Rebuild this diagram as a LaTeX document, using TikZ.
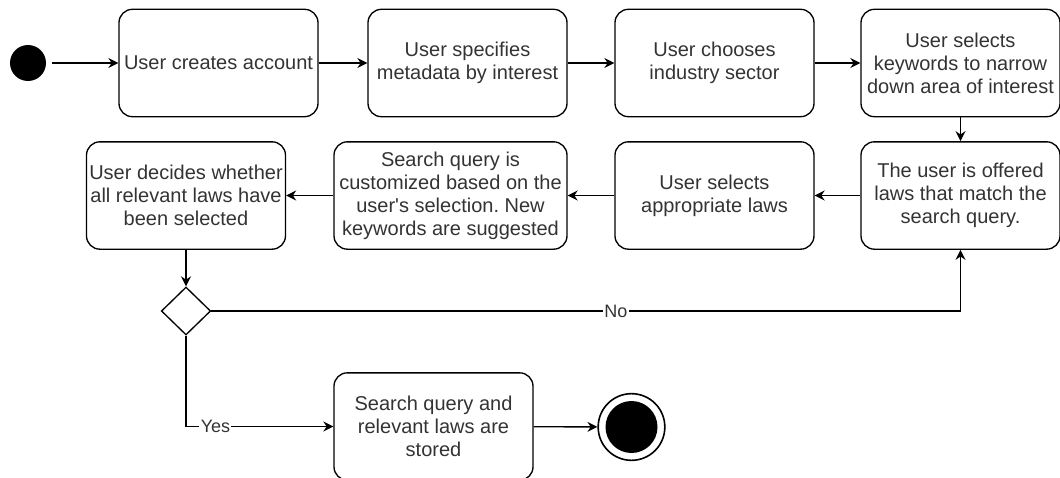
\documentclass[tikz,border=0pt]{standalone}
\usepackage{fontspec}
\setmainfont{Liberation Sans}
\usetikzlibrary{arrows.meta,shapes.geometric}
\frenchspacing

\begin{document}
\begin{tikzpicture}[x=0.75pt, y=-0.75pt,
	every node/.style={font=\fontsize{15pt}{17.25pt}\selectfont, text=black!80},
	activity/.style={draw, rounded corners=10pt, line width=1pt, align=center,
		minimum width=149.25pt, minimum height=80.5pt, inner sep=2pt},
	arr/.style={-{Stealth[length=7.5pt, width=7.5pt, inset=2.5pt]}, line width=1pt},
	lbl/.style={fill=white, inner sep=1pt, font=\fontsize{13.5pt}{15pt}\selectfont}]
	\useasboundingbox (0,0) rectangle (1060,478);
	
	% start and end
	\node (start) [circle, fill=black, minimum size=27pt, inner sep=0pt] at (28,63) {};
	\node (finish) [circle, draw, line width=1.2pt, minimum size=50pt, inner sep=0pt,
		path picture={\fill (path picture bounding box.center) circle (19.5pt);}] at (631.5,427) {};
	
	% first row
	\node (account) [activity] at (218.5,63) {User creates account};
	\node (metadata) [activity] at (467.5,63) {User specifies\\metadata by interest};
	\node (sector) [activity] at (714.5,63) {User chooses\\industry sector};
	\node (keywords) [activity] at (960.5,63) {User selects\\keywords to narrow\\down area of interest};
	
	% second row
	\node (offered) [activity] at (960.5,195.5) {The user is offered\\laws that match the\\search query.};
	\node (selects) [activity] at (714.5,195.5) {User selects\\appropriate laws};
	\node (query) [activity, minimum width=174.75pt] at (450.5,195.5) {Search query is\\customized based on the\\user\textquotesingle s selection. New\\keywords are suggested};
	\node (decides) [activity] at (186,195.5) {User decides whether\\all relevant laws have\\been selected};
	
	% decision and storing
	\node (choice) [diamond, draw, line width=1pt, aspect=1, minimum width=37pt, minimum height=36pt, inner sep=0pt] at (186,311) {};
	\node (stored) [activity] at (433.5,426.5) {Search query and\\relevant laws are\\stored};
	
	% arrows
	\draw [arr, shorten <=4.5pt] (start) -- (account);
	\draw [arr] (account) -- (metadata);
	\draw [arr] (metadata) -- (sector);
	\draw [arr] (sector) -- (keywords);
	\draw [arr] (keywords) -- (offered);
	\draw [arr] (offered) -- (selects);
	\draw [arr] (selects) -- (query);
	\draw [arr] (query) -- (decides);
	\draw [arr] (decides) -- (choice);
	\draw [arr] (choice.east) -| node [lbl, pos=0.27] {No} (offered.south);
	\draw [arr] (choice.south) |- node [lbl, pos=0.6] {Yes} (stored.west);
	\draw [arr] (stored) -- (finish);
\end{tikzpicture}
\end{document}
